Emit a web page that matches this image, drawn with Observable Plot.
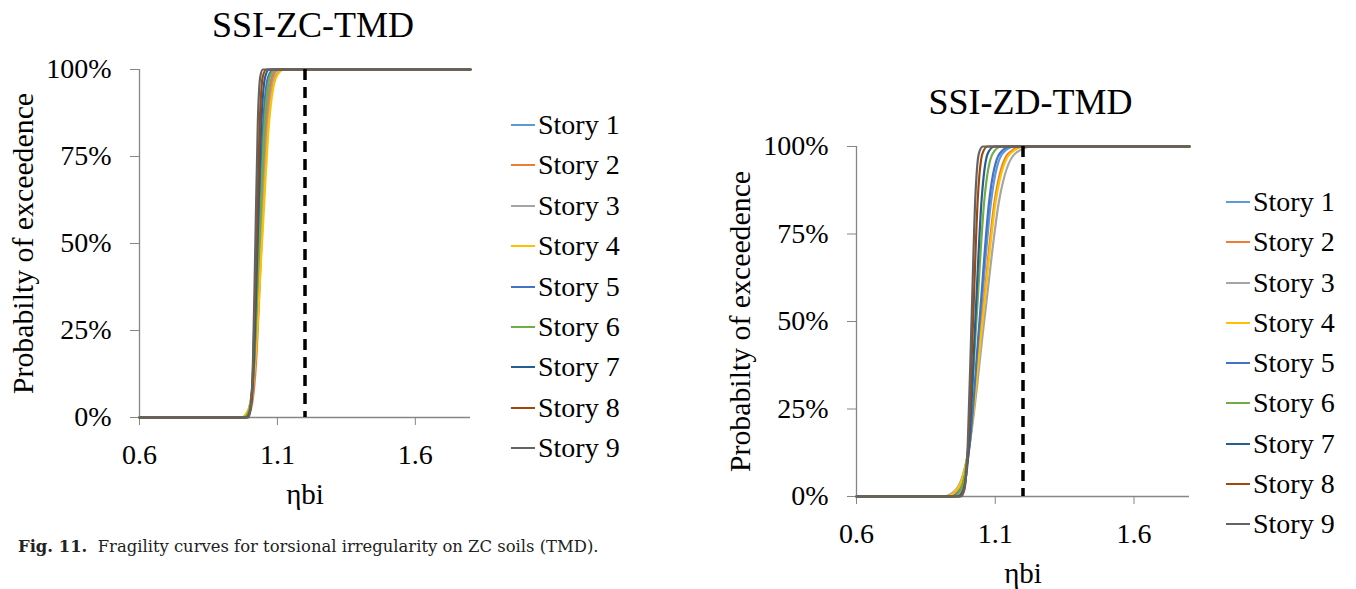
<!DOCTYPE html>
<html><head><meta charset="utf-8">
<script src="https://cdn.jsdelivr.net/npm/d3@7"></script>
<script src="https://cdn.jsdelivr.net/npm/@observablehq/plot@0.6"></script>
<style>
html,body{margin:0;padding:0;background:#fff;}
#wrap{position:relative;width:1356px;height:589px;overflow:hidden;background:#fff;font-family:"Liberation Serif","Times New Roman",serif;}
.panel{position:absolute;top:0;}
.item{position:absolute;display:flex;align-items:center;white-space:nowrap;font-size:28px;line-height:28px;height:28px;color:#000;font-family:"Liberation Serif","Times New Roman",serif;}
.swatch{display:inline-block;width:24px;height:2px;margin-right:3px;}
.caption{position:absolute;left:18px;top:537px;font-size:16.4px;color:#222;white-space:nowrap;font-family:"DejaVu Serif",serif;}
</style></head><body>
<div id="wrap">
  <div id="left" class="panel" style="left:0px"></div>
  <div id="right" class="panel" style="left:680px"></div>
  <div id="legendL"></div>
  <div id="legendR"></div>
  <div class="caption"><b>Fig. 11.</b>&nbsp; Fragility curves for torsional irregularity on ZC soils (TMD).</div>
</div>
<script>
// ---- data ----
const stories = ["Story 1","Story 2","Story 3","Story 4","Story 5","Story 6","Story 7","Story 8","Story 9"];
const storyColors = ["#5B9BD5","#ED7D31","#A5A5A5","#FFC000","#4472C4","#70AD47","#255E91","#9E480E","#636363"];
const xTicks = [0.6, 1.1, 1.6];
const yTicks = [0, 0.25, 0.5, 0.75, 1];
const limitLine = 1.2;
// probability levels at which each curve's ηbi value was read
const probLevels = [0, 0, 0.02, 0.15, 0.5, 0.85, 0.98, 1, 1];

// SSI-ZC-TMD : ηbi at each probability level
const zcStory1 = [0.6, 0.975, 0.995, 1.016, 1.037, 1.059, 1.081, 1.103, 1.8];
const zcStory2 = [0.6, 0.982, 1.002, 1.022, 1.042, 1.063, 1.084, 1.105, 1.8];
const zcStory3 = [0.6, 0.970, 0.994, 1.018, 1.042, 1.067, 1.092, 1.119, 1.8];
const zcStory4 = [0.6, 0.969, 0.994, 1.018, 1.044, 1.070, 1.097, 1.125, 1.8];
const zcStory5 = [0.6, 0.982, 0.999, 1.015, 1.032, 1.049, 1.067, 1.085, 1.8];
const zcStory6 = [0.6, 0.978, 0.997, 1.015, 1.034, 1.054, 1.073, 1.093, 1.8];
const zcStory7 = [0.6, 0.987, 1.001, 1.014, 1.028, 1.042, 1.056, 1.070, 1.8];
const zcStory8 = [0.6, 0.990, 1.001, 1.012, 1.024, 1.036, 1.047, 1.060, 1.8];
const zcStory9 = [0.6, 0.994, 1.002, 1.011, 1.020, 1.029, 1.038, 1.047, 1.8];

// SSI-ZD-TMD : ηbi at each probability level
const zdStory1 = [0.6, 0.936, 0.972, 1.008, 1.046, 1.086, 1.126, 1.170, 1.8];
const zdStory2 = [0.6, 0.924, 0.965, 1.007, 1.052, 1.099, 1.147, 1.198, 1.8];
const zdStory3 = [0.6, 0.911, 0.959, 1.008, 1.060, 1.115, 1.172, 1.234, 1.8];
const zdStory4 = [0.6, 0.920, 0.963, 1.007, 1.054, 1.103, 1.154, 1.208, 1.8];
const zdStory5 = [0.6, 0.942, 0.975, 1.008, 1.043, 1.079, 1.116, 1.155, 1.8];
const zdStory6 = [0.6, 0.949, 0.976, 1.004, 1.032, 1.061, 1.091, 1.122, 1.8];
const zdStory7 = [0.6, 0.963, 0.985, 1.006, 1.028, 1.051, 1.073, 1.097, 1.8];
const zdStory8 = [0.6, 0.971, 0.987, 1.003, 1.020, 1.037, 1.054, 1.072, 1.8];
const zdStory9 = [0.6, 0.976, 0.989, 1.001, 1.0145, 1.028, 1.041, 1.055, 1.8];

const zcSeries = [zcStory1, zcStory2, zcStory3, zcStory4, zcStory5, zcStory6, zcStory7, zcStory8, zcStory9];
const zdSeries = [zdStory1, zdStory2, zdStory3, zdStory4, zdStory5, zdStory6, zdStory7, zdStory8, zdStory9];

const titles = ["SSI-ZC-TMD", "SSI-ZD-TMD"];
const xLabel = "ηbi";
const yLabel = "Probabilty of exceedence";

// ---- build ----
function rows(series) {
  const out = [];
  series.forEach((xs, i) => xs.forEach((x, j) => out.push({story: stories[i], x, p: probLevels[j]})));
  return out;
}

const FONT = '"Liberation Serif","Times New Roman",serif';

function panel({title, series, width, height, mL, mR, mT, mB, titleDx}) {
  return Plot.plot({
    width, height,
    marginLeft: mL, marginRight: mR, marginTop: mT, marginBottom: mB,
    style: {fontFamily: FONT, fontSize: "28px", color: "#000", background: "transparent", overflow: "visible"},
    x: {domain: [0.6, 1.8]},
    y: {domain: [0, 1]},
    color: {domain: stories, range: storyColors},
    marks: [
      Plot.ruleX([0.6], {stroke: "#868686", strokeWidth: 1.3}),
      Plot.ruleY([0], {stroke: "#868686", strokeWidth: 1.3}),
      Plot.axisX({ticks: xTicks, tickFormat: d3.format(".1f"), tickSize: 8, tickPadding: 19, stroke: "#868686", fill: "#000", fontSize: 28, label: null}),
      Plot.axisY({ticks: yTicks, tickFormat: d3.format(".0%"), tickSize: 9, tickPadding: 19, stroke: "#868686", fill: "#000", fontSize: 28, label: null}),
      Plot.line(rows(series), {x: "x", y: "p", z: "story", stroke: "story", curve: "monotone-x", strokeWidth: 2.2}),
      Plot.ruleX([limitLine], {stroke: "#000", strokeWidth: 3.5, strokeDasharray: "11,7"}),
      Plot.text([title], {text: d => d, frameAnchor: "top", lineAnchor: "middle", textAnchor: "middle", dy: -44, dx: titleDx, fontSize: 36, fill: "#000"}),
      Plot.text([xLabel], {text: d => d, frameAnchor: "bottom", lineAnchor: "middle", textAnchor: "middle", dy: 77, fontSize: 29, fill: "#000"}),
      Plot.text([yLabel], {text: d => d, frameAnchor: "left", lineAnchor: "middle", textAnchor: "middle", dx: -116, rotate: -90, fontSize: 29.8, fill: "#000"})
    ]
  });
}

document.getElementById("left").appendChild(panel({
  title: titles[0], series: zcSeries, width: 500, height: 520,
  mL: 139, mR: 30, mT: 69, mB: 103, titleDx: 8
}));
document.getElementById("right").appendChild(panel({
  title: titles[1], series: zdSeries, width: 540, height: 589,
  mL: 176, mR: 31, mT: 146, mB: 93, titleDx: 7.5
}));

function legend(id, left, top0, step) {
  const el = document.getElementById(id);
  stories.forEach((s, i) => {
    const d = document.createElement("div");
    d.className = "item";
    d.style.left = left + "px";
    d.style.top = (top0 + i * step - 14) + "px";
    d.innerHTML = `<span class="swatch" style="background:${storyColors[i]}"></span><span>${s}</span>`;
    el.appendChild(d);
  });
}
legend("legendL", 511, 125, 40.4);
legend("legendR", 1226, 202, 40.25);
</script>
</body></html>
